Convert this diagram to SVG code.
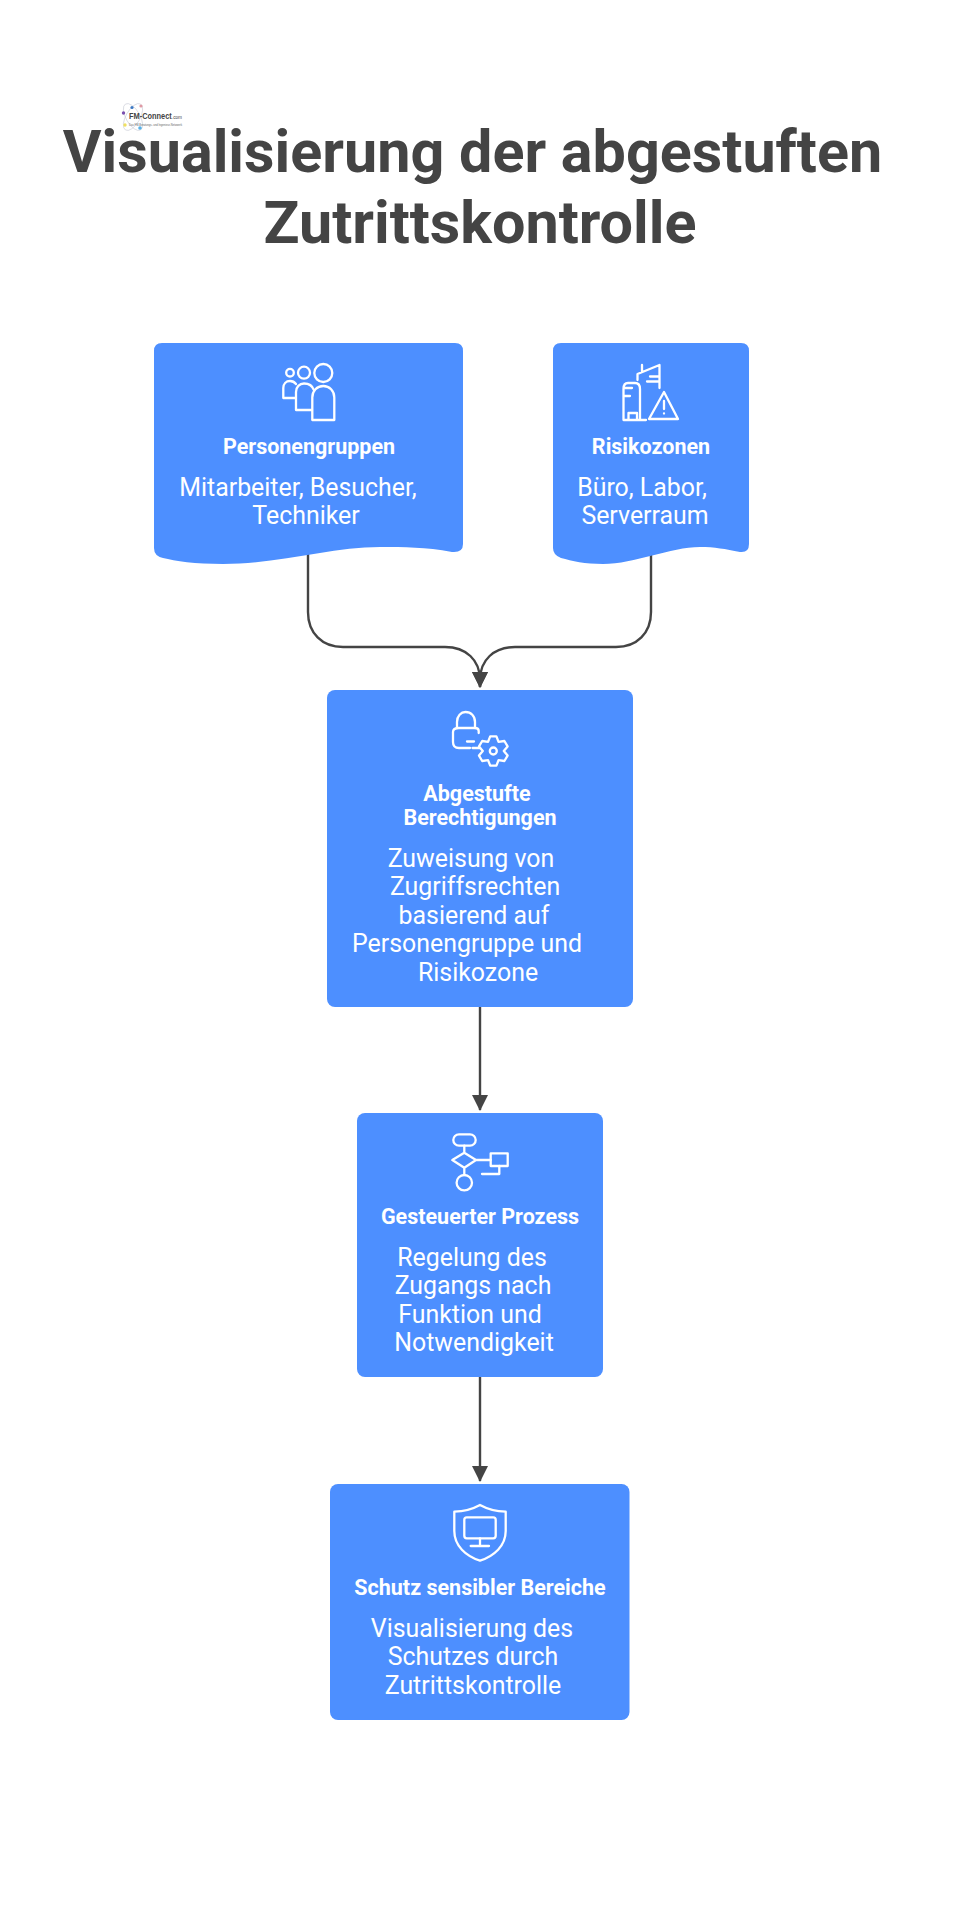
<svg xmlns="http://www.w3.org/2000/svg" width="960" height="1920" viewBox="0 0 960 1920">
<style>
.t{font-family:Roboto,"Liberation Sans",sans-serif;font-weight:700;font-size:59.3px;fill:#444;text-anchor:middle}
.h{font-family:Roboto,"Liberation Sans",sans-serif;font-weight:700;font-size:21.5px;fill:#fff;text-anchor:middle}
.b{font-family:Roboto,"Liberation Sans",sans-serif;font-weight:400;font-size:24.9px;fill:#fff;text-anchor:middle}
.box{fill:#4d8fff}
.i{fill:none;stroke:#fff;stroke-width:2.3;stroke-linecap:round;stroke-linejoin:round}
.c{fill:none;stroke:#444;stroke-width:2.4}
</style>
<defs>
<marker id="a" markerUnits="userSpaceOnUse" markerWidth="16" markerHeight="16" refX="15" refY="8" orient="auto" viewBox="0 0 16 16"><path d="M0 0L16 8L0 16Z" fill="#444"/></marker>
</defs>
<rect width="960" height="1920" fill="#fff"/>
<g id="logo">
<g fill="none" stroke="#c9ccd6" stroke-width="0.6"><ellipse cx="133" cy="117" rx="7" ry="15" transform="rotate(-30 133 117)"/><ellipse cx="133" cy="117" rx="7" ry="15" transform="rotate(30 133 117)"/></g>
<circle cx="123.500" cy="113" r="1.700" fill="#7a4fb0"/><circle cx="132" cy="107.500" r="1.600" fill="#3b78c4"/><circle cx="141" cy="106" r="1.600" fill="#e09aa5"/><circle cx="125" cy="125" r="1.700" fill="#f0e060"/><circle cx="140" cy="128" r="1.800" fill="#55b0e8"/>
<text x="129" y="119" font-family="'Liberation Sans',sans-serif" font-weight="700" font-size="9.500" fill="#444" textLength="53" lengthAdjust="spacingAndGlyphs">FM-Connect<tspan font-size="6" font-weight="400">.com</tspan></text>
<text x="129" y="125.500" font-family="'Liberation Sans',sans-serif" font-size="3" fill="#666" textLength="53" lengthAdjust="spacingAndGlyphs">Das FM-Beratungs- und Ingenieur-Netzwerk</text>
</g>
<g id="title"><text class="t" x="472.500" y="172">Visualisierung der abgestuften</text><text class="t" x="480" y="243">Zutrittskontrolle</text></g>
<g id="connectors">
<path class="c" marker-end="url(#a)" d="M308 552V612C308 633 322 647 343 647H445C466 647 480 660 480 680V687"/>
<path class="c" marker-end="url(#a)" d="M651 552V612C651 633 637 647 616 647H515C494 647 480 660 480 680V687"/>
<path class="c" marker-end="url(#a)" d="M480 1006V1110"/>
<path class="c" marker-end="url(#a)" d="M480 1377V1481"/>
</g>
<g id="personengruppen">
<path class="box" d="M162 343H455Q463 343 463 351V544Q463 553 452 552C425 547 405 547 380 547C330 547 280 564 223 564C195 564 175 561 163 558Q154 556 154 548V351Q154 343 162 343Z"/>
<g class="i"><circle cx="290" cy="372.700" r="3.800"/><circle cx="304" cy="372.700" r="6"/><circle cx="323.300" cy="373" r="9"/>
<path d="M312.300 420V397.500C312.300 391 317 386 323.300 386C329.500 386 334.300 391 334.300 397.500V420Z"/><path d="M312 410H296V392C296 387 299.500 383.500 304 383.500C309.500 383.500 312.500 386 313.800 390"/><path d="M295.500 398H283.300V388C283.300 384 286 381 290 381C292.500 381 294.500 382 296 384"/></g>
<text class="h" x="309" y="454">Personengruppen</text>
<text class="b" x="298" y="496">Mitarbeiter, Besucher,</text><text class="b" x="306" y="524">Techniker</text>
</g>
<g id="risikozonen">
<path class="box" d="M561 343H741Q749 343 749 351V544Q749 553 740 552C725 549 715 547 700 547C670 547 635 564 603 564C585 564 572 561 561 558Q553 555 553 548V351Q553 343 561 343Z"/>
<g class="i"><path d="M646 420H623.500V389Q623.500 383 628 383H635Q640 383 640 389V420M623.500 396H630M623.500 388H632M628.500 420V413H637V420"/><path d="M637.500 380V374L659.500 365V388M642 372V365M647 381.500H659.500M650 376.500H659.500"/><path d="M664 392L678 419H649Z"/><path d="M664 401V409M664 413.300V413.500"/></g>
<text class="h" x="651" y="454">Risikozonen</text>
<text class="b" x="642" y="496">Büro, Labor,</text><text class="b" x="645" y="524">Serverraum</text>
</g>
<g id="berechtigungen">
<rect class="box" x="327" y="690" width="306" height="317" rx="8"/>
<g class="i"><path d="M478.700 733V731Q478.700 728 475 728H459Q453 728 453 732V742Q453 748 459 748H470M467 741.500H474"/><path d="M457 728V722C457 716 461 712 465.500 712C471 712 475 716 475 722V728"/><path d="M472.500 748H480"/>
<path transform="translate(493.300 751)" d="M-3.100 -14.700L3.100 -14.700L5.250 -9.100L11.100 -10L14.300 -4.600L10.500 0L14.300 4.600L11.100 10L5.250 9.100L3.100 14.700L-3.100 14.700L-5.250 9.100L-11.100 10L-14.300 4.600L-10.500 0L-14.300 -4.600L-11.100 -10L-5.250 -9.100Z"/><circle cx="493.300" cy="751" r="3.500"/></g>
<text class="h" x="477" y="801">Abgestufte</text><text class="h" x="480" y="825">Berechtigungen</text>
<text class="b" x="471" y="867">Zuweisung von</text><text class="b" x="475" y="895">Zugriffsrechten</text><text class="b" x="474" y="924">basierend auf</text><text class="b" x="467" y="952">Personengruppe und</text><text class="b" x="478" y="981">Risikozone</text>
</g>
<g id="prozess">
<rect class="box" x="357" y="1113" width="246" height="264" rx="8"/>
<g class="i"><rect x="453.300" y="1134.300" width="22.400" height="11.400" rx="5.700"/><path d="M464.300 1145.700V1152.700M464.300 1152.700L476 1160L464.300 1167.700L452.300 1160ZM464.300 1167.700V1175M476 1160H490.700"/><circle cx="464.300" cy="1182.700" r="7.700"/><rect x="490.700" y="1153.300" width="17" height="12.700"/><path d="M499.300 1166V1174H482"/></g>
<text class="h" x="480" y="1224">Gesteuerter Prozess</text>
<text class="b" x="472" y="1266">Regelung des</text><text class="b" x="473" y="1294">Zugangs nach</text><text class="b" x="470" y="1323">Funktion und</text><text class="b" x="474" y="1351">Notwendigkeit</text>
</g>
<g id="schutz">
<rect class="box" x="330" y="1484" width="299.500" height="236" rx="8"/>
<g class="i"><path d="M480 1505C471 1510 463 1511.500 454.300 1511.700V1531C454.300 1546 466 1556 480 1560.700C494 1556 505.700 1546 505.700 1531V1511.700C497 1511.500 489 1510 480 1505Z"/><rect x="464.300" y="1517.300" width="31.400" height="21" rx="2.500"/><path d="M480 1538.300V1546M470.700 1546H489"/></g>
<text class="h" x="480" y="1594.500">Schutz sensibler Bereiche</text>
<text class="b" x="472" y="1637">Visualisierung des</text><text class="b" x="473" y="1665">Schutzes durch</text><text class="b" x="473" y="1694">Zutrittskontrolle</text>
</g>
</svg>
